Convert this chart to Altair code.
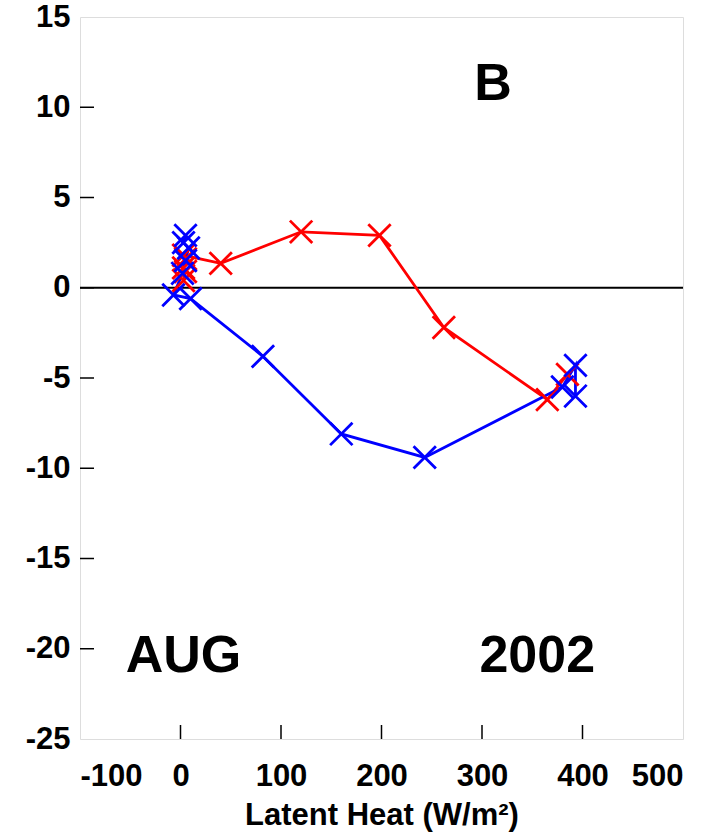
import altair as alt
import pandas as pd

red_x = [3, 5, 3, 5, 3, 40, 120, 198, 262, 365, 385]
red_y = [0.4, 0.9, 1.1, 1.6, 1.8, 1.35, 3.1, 2.9, -2.2, -6.2, -4.8]
blue_x = [5, 3, 8, 5, 2, -7, 10, 82, 160, 243, 380, 393, 393]
blue_y = [2.9, 2.5, 2.2, 1.5, 0.8, -0.4, -0.6, -3.8, -8.1, -9.4, -5.5, -4.3, -6.0]
x_ticks = [-100, 0, 100, 200, 300, 400, 500]
y_ticks = [-25, -20, -15, -10, -5, 0, 5, 10, 15]

FONT = "Liberation Sans"
W, H = 603, 722

df = pd.concat([
    pd.DataFrame({"x": red_x, "y": red_y, "s": "red", "o": range(len(red_x))}),
    pd.DataFrame({"x": blue_x, "y": blue_y, "s": "blue", "o": range(len(blue_x))}),
])

xs = alt.Scale(domain=[-100, 500], nice=False, zero=False)
ys = alt.Scale(domain=[-25, 15], nice=False, zero=False)
col = alt.Scale(domain=["red", "blue"], range=["#ff0000", "#0000ff"])

xax = alt.Axis(values=x_ticks, ticks=False, domain=False, grid=False, labelFont=FONT,
               labelExpr="'' + datum.value",
               labelFontSize=31, labelFontWeight="bold", labelColor="black", labelPadding=22,
               title="Latent Heat (W/m²)", titleFont=FONT, titleFontSize=31,
               titleFontWeight="bold", titleColor="black", titlePadding=9)
yax = alt.Axis(values=y_ticks, ticks=False, domain=False, grid=False, labelFont=FONT,
               labelExpr="'' + datum.value",
               labelFontSize=31, labelFontWeight="bold", labelColor="black", labelPadding=10,
               title=None)

base = alt.Chart(df)
lines = base.mark_line(strokeWidth=2.8).encode(
    x=alt.X("x:Q", scale=xs, axis=xax),
    y=alt.Y("y:Q", scale=ys, axis=yax),
    color=alt.Color("s:N", scale=col, legend=None),
    detail="s:N",
    order="o:Q",
)
pts = base.mark_point(shape="M-1,-1L1,1M-1,1L1,-1", filled=False, size=500, strokeWidth=2.8, opacity=1).encode(
    x=alt.X("x:Q", scale=xs),
    y=alt.Y("y:Q", scale=ys),
    color=alt.Color("s:N", scale=col, legend=None),
)

zero = alt.Chart(pd.DataFrame({"y": [0]})).mark_rule(color="black", strokeWidth=2).encode(
    y=alt.Y("y:Q", scale=ys), x=alt.value(0), x2=alt.value(W))

xt = alt.Chart(pd.DataFrame({"x": x_ticks[1:-1]})).mark_rule(color="black", strokeWidth=1.5).encode(
    x=alt.X("x:Q", scale=xs), y=alt.value(H), y2=alt.value(H - 14))
yt = alt.Chart(pd.DataFrame({"y": y_ticks[1:-1]})).mark_rule(color="black", strokeWidth=1.5).encode(
    y=alt.Y("y:Q", scale=ys), x=alt.value(0), x2=alt.value(14))

labels = pd.DataFrame({"x": [311, 3, 355], "y": [11.3, -20.4, -20.4], "t": ["B", "AUG", "2002"]})
txt = alt.Chart(labels).mark_text(font=FONT, fontWeight="bold", fontSize=52, color="black",
                                  align="center", baseline="middle").encode(
    x=alt.X("x:Q", scale=xs), y=alt.Y("y:Q", scale=ys), text="t:N")

chart = alt.layer(zero, xt, yt, lines, pts, txt).properties(
    width=W, height=H,
    autosize=alt.AutoSizeParams(type="none"),
    padding={"left": 80, "top": 17, "right": 34, "bottom": 95},
).configure_view(stroke="black", strokeWidth=1.5).configure(background="white")

chart.save("out.html", embed_options={"renderer": "svg", "actions": False})
